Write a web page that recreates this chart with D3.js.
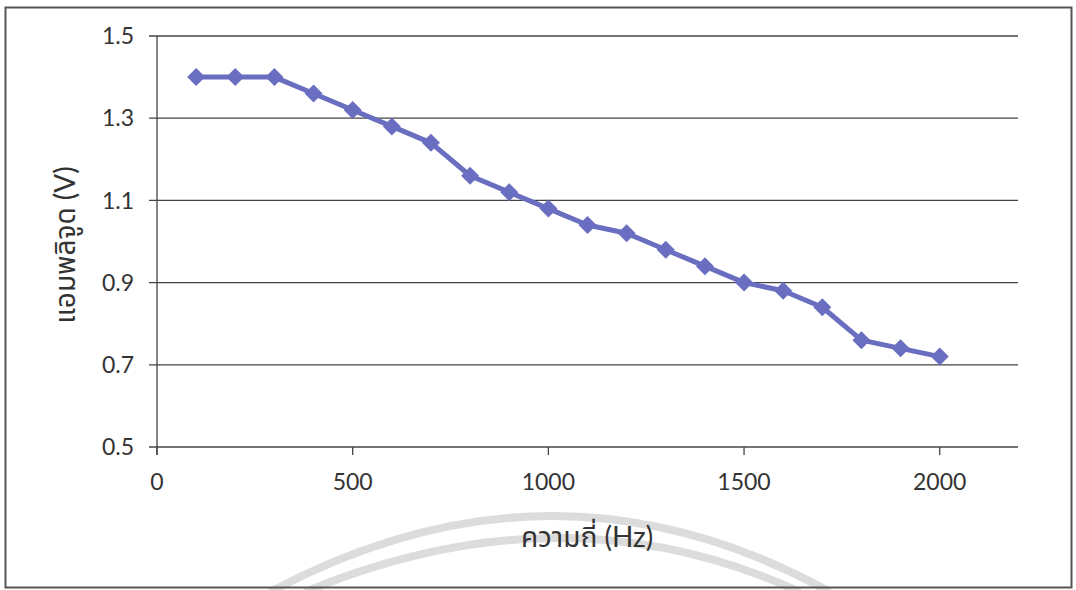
<!DOCTYPE html>
<html><head><meta charset="utf-8">
<script src="https://cdn.jsdelivr.net/npm/d3@7"></script>
<style>
html,body{margin:0;padding:0;background:#fff;}
svg{display:block;}
text{font-family:Lato,"Noto Sans","Noto Sans Thai",sans-serif;fill:#333;}
</style></head><body>
<svg id="c" width="1076" height="590"></svg>
<script>
const freq = [100,200,300,400,500,600,700,800,900,1000,1100,1200,1300,1400,1500,1600,1700,1800,1900,2000];
const amplitude = [1.40,1.40,1.40,1.36,1.32,1.28,1.24,1.16,1.12,1.08,1.04,1.02,0.98,0.94,0.90,0.88,0.84,0.76,0.74,0.72];
const xTicks = [0,500,1000,1500,2000];
const yTicks = [0.5,0.7,0.9,1.1,1.3,1.5];
const xTitle = "ความถี่ (Hz)";
const yTitle = "แอมพลิจูด (V)";

const svg = d3.select("#c");
// watermark arcs
const wm = svg.append("g").attr("fill","none").attr("stroke","#dcdcdc").attr("stroke-width",8);
wm.append("path").attr("d","M270,592 Q555,440 830,592");
wm.append("path").attr("d","M305,592 Q565,484 800,592");

// frame
svg.append("rect").attr("x",5.5).attr("y",7.5).attr("width",1066).attr("height",580)
  .attr("fill","none").attr("stroke","#555").attr("stroke-width",2);

const x = d3.scaleLinear().domain([0,2200]).range([157,1018]);
const y = d3.scaleLinear().domain([0.5,1.5]).range([447,36]);

// gridlines
svg.append("g").selectAll("line").data(yTicks).join("line")
  .attr("x1",149).attr("x2",1018).attr("y1",d=>y(d)).attr("y2",d=>y(d))
  .attr("stroke","#444").attr("stroke-width",1.3);
// y axis line
svg.append("line").attr("x1",157).attr("x2",157).attr("y1",36).attr("y2",455)
  .attr("stroke","#444").attr("stroke-width",1.3);
// x ticks
svg.append("g").selectAll("line").data(xTicks).join("line")
  .attr("x1",d=>x(d)).attr("x2",d=>x(d)).attr("y1",447).attr("y2",455)
  .attr("stroke","#444").attr("stroke-width",1.3);

svg.append("g").selectAll("text").data(yTicks).join("text")
  .attr("x",134).attr("y",d=>y(d)).attr("dy","0.36em").attr("text-anchor","end")
  .attr("font-size",23).text(d=>d.toFixed(1));
svg.append("g").selectAll("text").data(xTicks).join("text")
  .attr("x",d=>x(d)).attr("y",490).attr("text-anchor","middle")
  .attr("font-size",23).text(d=>d);

svg.append("text").attr("x",587).attr("y",547).attr("text-anchor","middle")
  .attr("font-size",28).text(xTitle);
svg.append("text").attr("transform","translate(75,245) rotate(-90)").attr("text-anchor","middle")
  .attr("font-size",28).text(yTitle);

const col = "#6a6ec0";
const line = d3.line().x((d,i)=>x(freq[i])).y(d=>y(d));
svg.append("path").datum(amplitude).attr("d",line).attr("fill","none")
  .attr("stroke",col).attr("stroke-width",5).attr("stroke-linejoin","round");
svg.append("g").selectAll("path").data(amplitude).join("path")
  .attr("transform",(d,i)=>`translate(${x(freq[i])},${y(d)})`)
  .attr("d","M0,-9L9,0L0,9L-9,0Z").attr("fill",col);
</script>
</body></html>
